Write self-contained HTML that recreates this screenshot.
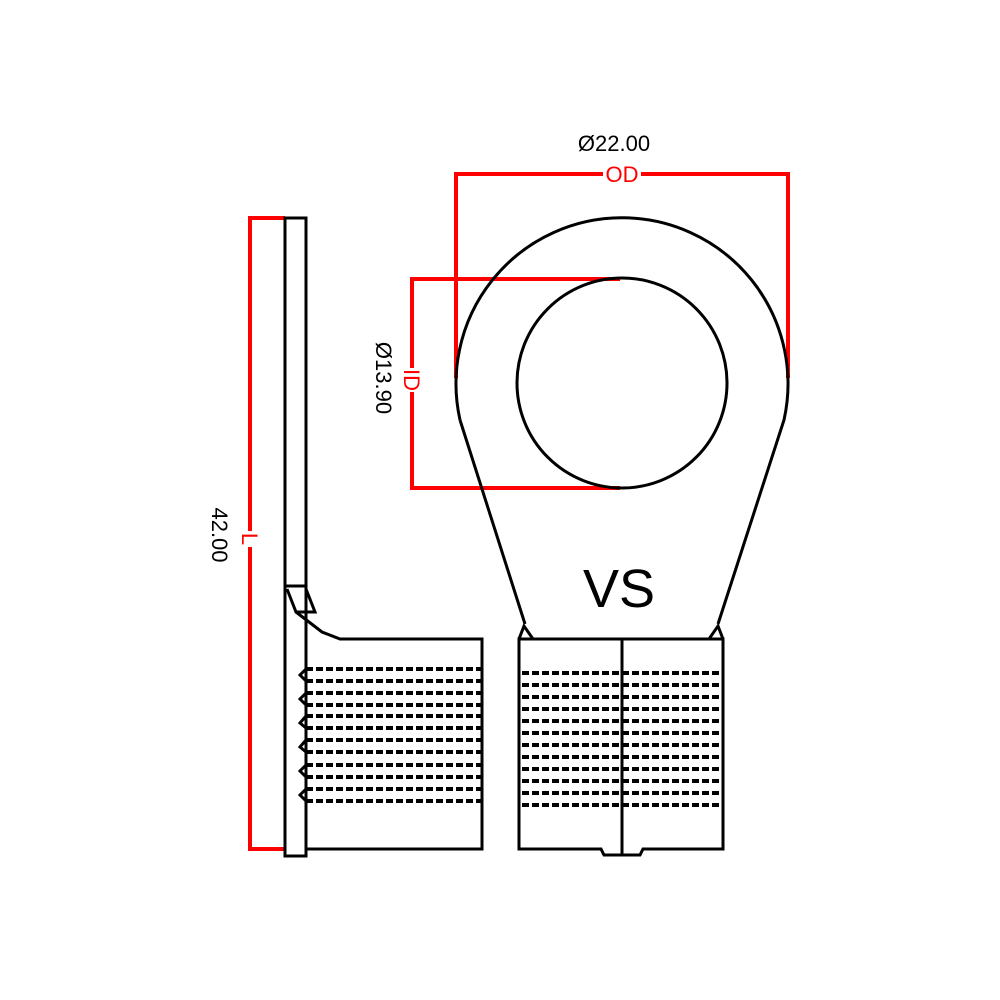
<!DOCTYPE html>
<html><head><style>html,body{margin:0;padding:0;background:#fff}svg{display:block}</style></head>
<body>
<svg width="1000" height="1000" viewBox="0 0 1000 1000" xmlns="http://www.w3.org/2000/svg" font-family="Liberation Sans, sans-serif">
<rect width="1000" height="1000" fill="#fff"/>
<!-- red dims -->
<g stroke="#f00" stroke-width="4" fill="none">
<polyline points="456,378 456,174 788,174 788,378"/>
<polyline points="620,279 412,279 412,488 620,488"/>
<polyline points="285,218 250,218 250,849 285,849"/>
</g>
<g fill="#f00" font-size="22" text-anchor="middle">
<rect x="603" y="164" width="38" height="20" fill="#fff"/>
<text x="622" y="182">OD</text>
<rect x="402" y="368" width="20" height="24" fill="#fff"/>
<text transform="translate(404,380) rotate(90)">ID</text>
<rect x="240" y="531" width="20" height="16" fill="#fff"/>
<text transform="translate(242,539) rotate(90)">L</text>
</g>
<g fill="#000" font-size="22" text-anchor="middle">
<text x="614" y="151">Ø22.00</text>
<text transform="translate(376,378) rotate(90)">Ø13.90</text>
<text transform="translate(212,535) rotate(90)">42.00</text>
</g>
<!-- ring view -->
<g stroke="#000" stroke-width="3" fill="none">
<path d="M460,420 A166,166 0 1 1 784,420 L718,624"/>
<path d="M460,420 L525,624"/>
<circle cx="622" cy="383" r="105"/>
<polyline points="519,639 524,626 533,639"/>
<polyline points="709,639 718,626 723,639"/>
<path d="M519,639 H723 V849 H643 L640,855 H604 L601,849 H519 Z"/>
<line x1="622" y1="639" x2="622" y2="855"/>
</g>
<g stroke="#000" stroke-width="4" stroke-dasharray="7,3" fill="none">
<path d="M522,673H721M522,685H721M522,697H721M522,709H721M522,721H721M522,733H721M522,745H721M522,757H721M522,769H721M522,781H721M522,793H721M522,805H721"/>
</g>
<text x="619" y="607" font-size="54" fill="#000" text-anchor="middle" style="font-weight:normal">VS</text>
<!-- side view -->
<g stroke="#000" stroke-width="3" fill="none">
<rect x="285" y="218" width="21" height="638"/>
<line x1="285" y1="586" x2="306" y2="586"/>
<polyline points="287,589 296,612 315,612 306,589"/>
<path d="M296,612 L322,632 L340,639 H482 V849 H306"/>
<line x1="306" y1="612" x2="306" y2="612"/>
<line x1="306" y1="647" x2="306" y2="805"/>
</g>
<g stroke="#000" stroke-width="4" stroke-dasharray="7,3" fill="none">
<path d="M306,669H481M306,681H481M306,693H481M306,705H481M306,716H481M306,728H481M306,740H481M306,752H481M306,765H481M306,777H481M306,789H481M306,801H481"/>
</g>
<g stroke="#000" stroke-width="3" fill="none">
<polyline points="306,669 300,675 306,681"/>
<polyline points="306,693 300,699 306,705"/>
<polyline points="306,716 300,723 306,728"/>
<polyline points="306,740 300,747 306,752"/>
<polyline points="306,765 300,771 306,777"/>
<polyline points="306,789 300,795 306,801"/>
</g>
</svg>
</body></html>
